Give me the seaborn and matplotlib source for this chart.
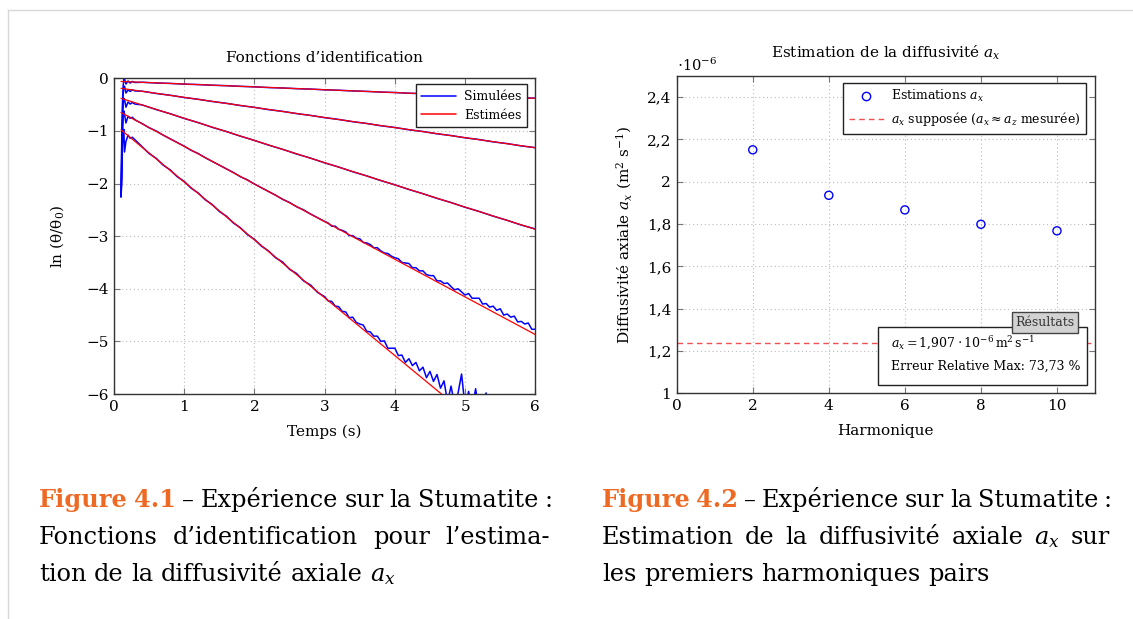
import numpy as np
import pandas as pd
import matplotlib
matplotlib.use("Agg")
import matplotlib.pyplot as plt
import seaborn as sns
from matplotlib.lines import Line2D
from matplotlib.patches import Rectangle
from matplotlib.ticker import FuncFormatter, MultipleLocator

# ---------------- DATA ----------------
# Figure 4.1 : identification functions
t_early = [0.10, 0.11, 0.12, 0.13, 0.14, 0.15, 0.17, 0.20, 0.23, 0.26, 0.30]
t_coarse = list(np.round(np.arange(0.4, 6.01, 0.2), 2))          # for curves 1-3
t_mid = list(np.round(np.arange(0.4, 2.95, 0.1), 2))              # curves 4-5
t_late = list(np.round(np.arange(3.0, 6.025, 0.05), 2))           # curves 4-5

sim1 = [-2.25, -1.20, -0.50, -0.15, -0.02, -0.01, -0.11, -0.05, -0.09, -0.06, -0.08,
        -0.075, -0.089, -0.097, -0.111, -0.119, -0.132, -0.140, -0.153, -0.162, -0.176,
        -0.184, -0.197, -0.205, -0.219, -0.227, -0.240, -0.249, -0.262, -0.270, -0.284,
        -0.292, -0.306, -0.313, -0.328, -0.335, -0.349, -0.357, -0.371, -0.378]
sim2 = [-2.25, -1.40, -0.70, -0.30, -0.17, -0.15, -0.28, -0.22, -0.25, -0.22, -0.24,
        -0.245, -0.288, -0.322, -0.365, -0.399, -0.441, -0.475, -0.518, -0.552, -0.595,
        -0.628, -0.671, -0.705, -0.748, -0.782, -0.825, -0.858, -0.902, -0.935, -0.978,
        -1.011, -1.055, -1.088, -1.131, -1.164, -1.208, -1.241, -1.285, -1.318]
sim3 = [-2.25, -1.60, -0.90, -0.50, -0.38, -0.40, -0.55, -0.45, -0.49, -0.46, -0.49,
        -0.505, -0.594, -0.673, -0.763, -0.842, -0.932, -1.011, -1.100, -1.180, -1.269,
        -1.349, -1.438, -1.517, -1.607, -1.686, -1.776, -1.855, -1.944, -2.024, -2.113,
        -2.193, -2.282, -2.361, -2.451, -2.530, -2.620, -2.699, -2.789, -2.862]
sim4 = [-2.25, -1.80, -1.10, -0.75, -0.62, -0.68, -0.85, -0.72, -0.76, -0.74, -0.79,
        -0.86, -0.94, -1.00, -1.08, -1.15, -1.22, -1.29, -1.37, -1.43, -1.51,
        -1.58, -1.65, -1.72, -1.79, -1.87, -1.93, -2.01, -2.08, -2.15, -2.22,
        -2.30, -2.36, -2.44, -2.50, -2.58, -2.65,
        -2.72, -2.75, -2.81, -2.81, -2.87, -2.89, -2.92, -2.99, -2.99, -3.04,
        -3.05, -3.12, -3.13, -3.16, -3.22, -3.22, -3.28, -3.32, -3.33, -3.38,
        -3.41, -3.43, -3.50, -3.51, -3.52, -3.60, -3.60, -3.66, -3.66, -3.73,
        -3.75, -3.75, -3.85, -3.85, -3.90, -3.89, -3.96, -4.02, -4.00, -4.06,
        -4.12, -4.09, -4.18, -4.18, -4.18, -4.29, -4.28, -4.35, -4.33, -4.41,
        -4.38, -4.50, -4.48, -4.54, -4.52, -4.63, -4.62, -4.67, -4.65, -4.77,
        -4.77]
sim5 = [-2.25, -2.00, -1.30, -1.05, -0.97, -1.40, -1.20, -1.08, -1.14, -1.12, -1.17,
        -1.30, -1.43, -1.52, -1.65, -1.74, -1.87, -1.96, -2.09, -2.18, -2.31,
        -2.40, -2.53, -2.62, -2.75, -2.84, -2.97, -3.06, -3.19, -3.28, -3.41,
        -3.49, -3.63, -3.71, -3.85, -3.93, -4.07,
        -4.15, -4.23, -4.24, -4.33, -4.34, -4.43, -4.44, -4.55, -4.54, -4.64,
        -4.67, -4.69, -4.81, -4.82, -4.90, -4.90, -5.00, -4.99, -5.13, -5.13,
        -5.13, -5.27, -5.26, -5.40, -5.33, -5.46, -5.40, -5.56, -5.49, -5.69,
        -5.57, -5.76, -5.63, -5.89, -5.75, -6.15, -5.85, -6.20, -5.98, -5.62,
        -6.25, -5.95, -6.30, -5.90, -6.35, -6.20, -5.98, -6.40, -6.30, -6.55,
        -6.40, -6.60, -6.50, -6.75, -6.60, -6.85, -6.70, -6.95, -6.80, -7.05,
        -6.90]

est_t = [0.10, 6.00]
est_start = [-0.06, -0.19, -0.38, -0.65, -0.98]
est_end = [-0.38, -1.32, -2.87, -4.87, -7.47]

# Figure 4.2 : diffusivity estimates
harmonics = [2, 4, 6, 8, 10]
a_x_est = [2.151e-6, 1.936e-6, 1.867e-6, 1.799e-6, 1.768e-6]
a_x_assumed = 1.239e-6
y2_ticks = [1.0e-6, 1.2e-6, 1.4e-6, 1.6e-6, 1.8e-6, 2.0e-6, 2.2e-6, 2.4e-6]

# ---------------- STYLE ----------------
sns.set_theme(style="ticks")
plt.rcParams['font.family'] = ['DejaVu Serif']
plt.rcParams['mathtext.fontset'] = 'dejavuserif'
plt.rcParams['axes.unicode_minus'] = True
plt.rcParams['text.color'] = 'black'
plt.rcParams['axes.labelcolor'] = 'black'

W, H = 1133, 619
fig = plt.figure(figsize=(W / 100, H / 100), dpi=100)
fig.patch.set_facecolor('white')

# page frame
fig.add_artist(Line2D([8 / W, 1], [1 - 10 / H, 1 - 10 / H], color='#d8d8d8', lw=1.0,
                      transform=fig.transFigure))
fig.add_artist(Line2D([8 / W, 8 / W], [0, 1 - 10 / H], color='#d8d8d8', lw=1.0,
                      transform=fig.transFigure))

TICK_FS = 11
LAB_FS = 11
LEG_FS = 9


def style_axes(ax):
    ax.set_facecolor('white')
    for s in ax.spines.values():
        s.set_color('#333333')
        s.set_linewidth(1.0)
        s.set_visible(True)
    ax.tick_params(direction='in', length=4, width=0.8, color='#777777',
                   top=True, right=True, labelsize=TICK_FS, labelcolor='black', pad=4)
    ax.grid(True, linestyle=(0, (1, 2.5)), color='#bbbbbb', linewidth=0.8)
    ax.set_axisbelow(True)


# ---------------- FIGURE 4.1 ----------------
ax1 = fig.add_axes([114 / W, 1 - 394 / H, 421.3 / W, 315.7 / H])
style_axes(ax1)

t123 = t_early + t_coarse
t45 = t_early + t_mid + t_late
for tt, yy in [(t123, sim1), (t123, sim2), (t123, sim3), (t45, sim4), (t45, sim5)]:
    sns.lineplot(x=tt, y=yy, ax=ax1, color='#0000ff', lw=1.1, estimator=None,
                 sort=False, legend=False)
for s0, s1 in zip(est_start, est_end):
    sns.lineplot(x=est_t, y=[s0, s1], ax=ax1, color='#ff0000', lw=0.9,
                 estimator=None, sort=False, legend=False)

ax1.set_xlim(0, 6)
ax1.set_ylim(-6, 0)
ax1.xaxis.set_major_locator(MultipleLocator(1))
ax1.yaxis.set_major_locator(MultipleLocator(1))
ax1.set_title("Fonctions d’identification", fontsize=LAB_FS, pad=12)
ax1.set_xlabel("Temps (s)", fontsize=LAB_FS, labelpad=8)
ax1.set_ylabel("ln (θ/θ$_0$)", fontsize=LAB_FS, labelpad=14)

h1 = [Line2D([], [], color='#0000ff', lw=1.1), Line2D([], [], color='#ff0000', lw=1.1)]
leg1 = ax1.legend(h1, ["Simulées", "Estimées"], loc='upper right',
                  bbox_to_anchor=(0.98, 0.981), borderaxespad=0, fontsize=LEG_FS,
                  frameon=True, fancybox=False, handlelength=2.8,
                  labelspacing=0.45, borderpad=0.45, handletextpad=0.6)
leg1.get_frame().set_edgecolor('#222222')
leg1.get_frame().set_linewidth(1.0)
leg1.get_frame().set_alpha(1)

# ---------------- FIGURE 4.2 ----------------
ax2 = fig.add_axes([676.7 / W, 1 - 393.3 / H, 418.3 / W, 317.3 / H])
style_axes(ax2)

ax2.axhline(a_x_assumed, color='#f25050', lw=1.0, ls=(0, (4, 3)), zorder=2)
sns.scatterplot(x=harmonics, y=a_x_est, ax=ax2, marker='o', s=34,
                facecolors='none', edgecolors='#0000ff', linewidths=1.0,
                legend=False, zorder=3)
ax2.collections[-1].set_facecolor('none')

ax2.set_xlim(0, 11)
ax2.set_ylim(1.0e-6, 2.5e-6)
ax2.xaxis.set_major_locator(MultipleLocator(2))
ax2.set_yticks(y2_ticks)
ax2.yaxis.set_major_formatter(
    FuncFormatter(lambda v, p: f"{round(v * 1e6, 1):g}".replace('.', ',')))
ax2.text(0.0, 1.005, r"$\cdot 10^{-6}$", transform=ax2.transAxes, ha='left',
         va='bottom', fontsize=10.5)
ax2.set_title(r"Estimation de la diffusivité $a_x$", fontsize=LAB_FS, pad=13)
ax2.set_xlabel("Harmonique", fontsize=LAB_FS, labelpad=8)
ax2.set_ylabel(r"Diffusivité axiale $a_x$ (m$^2$ s$^{-1}$)", fontsize=LAB_FS,
               labelpad=9)

h2 = [Line2D([], [], color='#0000ff', marker='o', markerfacecolor='none',
             markersize=6, lw=0),
      Line2D([], [], color='#f25050', lw=1.0, ls=(0, (4, 3)))]
leg2 = ax2.legend(h2, [r"Estimations $a_x$",
                       r"$a_x$ supposée ($a_x \approx a_z$ mesurée)"],
                  loc='upper right', bbox_to_anchor=(0.979, 0.979), borderaxespad=0,
                  fontsize=LEG_FS, frameon=True, fancybox=False, handlelength=2.8,
                  labelspacing=0.45, borderpad=0.45, handletextpad=0.6)
leg2.get_frame().set_edgecolor('#222222')
leg2.get_frame().set_linewidth(1.0)
leg2.get_frame().set_alpha(1)

# results box
ax2.add_patch(Rectangle((0.4805, 0.026), 0.4995, 0.183, transform=ax2.transAxes,
                        facecolor='white', edgecolor='#222222', lw=1.0, zorder=5))
ax2.text(0.512, 0.158, r"$a_x = 1{,}907 \cdot 10^{-6}\,\mathrm{m}^2\,\mathrm{s}^{-1}$",
         transform=ax2.transAxes, ha='left', va='center', fontsize=9, zorder=6)
ax2.text(0.512, 0.084, "Erreur Relative Max: 73,73 %", transform=ax2.transAxes,
         ha='left', va='center', fontsize=9, zorder=6)
ax2.add_patch(Rectangle((0.801, 0.191), 0.158, 0.066, transform=ax2.transAxes,
                        facecolor='#d2d2d2', edgecolor='#444444', lw=1.0, zorder=7))
ax2.text(0.880, 0.222, "Résultats", transform=ax2.transAxes, ha='center',
         va='center', fontsize=9, color='#333333', zorder=8)

# ---------------- CAPTIONS ----------------
fig.canvas.draw()
renderer = fig.canvas.get_renderer()
CAP_FS = 17.3
ORANGE = '#ee6a24'


def word_width(word, bold):
    t = fig.text(0, 0, word, fontsize=CAP_FS, fontweight='bold' if bold else 'normal')
    w = t.get_window_extent(renderer).width
    t.remove()
    return w


def place_line(words, x0, x1, y, justify):
    widths = [word_width(w, b) for w, b, c in words]
    space = word_width("a b", False) - word_width("ab", False)
    if justify and len(words) > 1:
        gap = (x1 - x0 - sum(widths)) / (len(words) - 1)
    else:
        gap = space
    x = x0
    for (w, b, c), wd in zip(words, widths):
        fig.text(x / W, 1 - y / H, w, fontsize=CAP_FS, color=c,
                 fontweight='bold' if b else 'normal', ha='left', va='baseline')
        x += wd + gap


K = 'black'
place_line([("Figure", True, ORANGE), ("4.1", True, ORANGE), ("–", False, K),
            ("Expérience", False, K), ("sur", False, K), ("la", False, K),
            ("Stumatite", False, K), (":", False, K)], 39, 553, 507, True)
place_line([("Fonctions", False, K), ("d’identification", False, K), ("pour", False, K),
            ("l’estima-", False, K)], 39, 550, 544, True)
place_line([("tion", False, K), ("de", False, K), ("la", False, K),
            ("diffusivité", False, K), ("axiale", False, K), ("$a_x$", False, K)],
           39, 553, 581, False)
place_line([("Figure", True, ORANGE), ("4.2", True, ORANGE), ("–", False, K),
            ("Expérience", False, K), ("sur", False, K), ("la", False, K),
            ("Stumatite", False, K), (":", False, K)], 602, 1112, 507, True)
place_line([("Estimation", False, K), ("de", False, K), ("la", False, K),
            ("diffusivité", False, K), ("axiale", False, K), ("$a_x$", False, K),
            ("sur", False, K)], 602, 1110, 544, True)
place_line([("les", False, K), ("premiers", False, K), ("harmoniques", False, K),
            ("pairs", False, K)], 602, 1110, 581, False)

fig.savefig("out.png", dpi=100, facecolor='white')
